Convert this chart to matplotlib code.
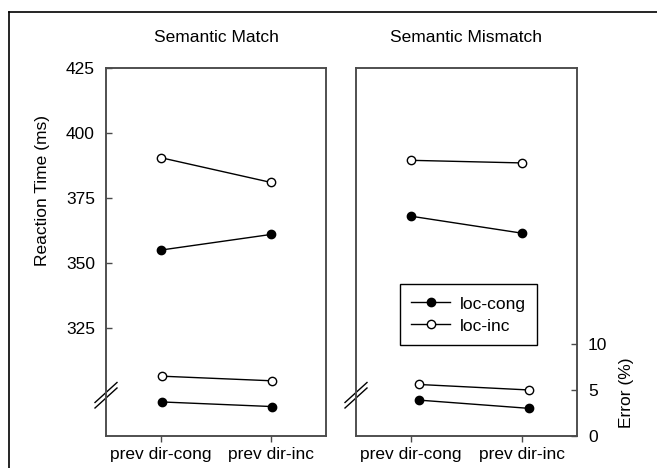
import matplotlib
matplotlib.use("Agg")
import matplotlib.pyplot as plt
from matplotlib.lines import Line2D

plt.rcParams['font.family'] = ['Liberation Sans', 'DejaVu Sans']
plt.rcParams['font.size'] = 12.5

conditions = ["prev dir-cong", "prev dir-inc"]
panels = ["Semantic Match", "Semantic Mismatch"]

# reaction times (ms)
rt_cong = [[355, 361], [368, 361.5]]
rt_inc = [[390.5, 381], [389.5, 388.5]]
# error rates (%)
err_cong = [[3.7, 3.2], [3.9, 3.0]]
err_inc = [[6.5, 6.0], [5.6, 5.0]]
err_shift = [0.01, 0.07]

W, H = 657, 468
fig = plt.figure(figsize=(W / 100, H / 100), dpi=100)

spine_col = "#4a4a4a"
boxes = [(106, 68, 220, 368), (356, 68, 221, 368)]

# outer frame
fig.add_artist(Line2D([9 / W, 1.0], [1 - 12 / H] * 2, color="black", lw=1.2))
fig.add_artist(Line2D([9 / W] * 2, [1 - 12 / H, 0], color="black", lw=1.2))

x = [0, 1]
for i, (l, t, w, h) in enumerate(boxes):
    ax = fig.add_axes([l / W, 1 - (t + h) / H, w / W, h / H])
    ax2 = ax.twinx()

    ax.plot(x, rt_cong[i], "-o", color="black", mfc="black", mec="black",
            ms=6, lw=1, label="loc-cong")
    ax.plot(x, rt_inc[i], "-o", color="black", mfc="white", mec="black",
            ms=6, lw=1, label="loc-inc")
    xe = [v + err_shift[i] for v in x]
    ax2.plot(xe, err_cong[i], "-o", color="black", mfc="black", mec="black",
             ms=6, lw=1)
    ax2.plot(xe, err_inc[i], "-o", color="black", mfc="white", mec="black",
             ms=6, lw=1)

    ax.set_xlim(-0.5, 1.5)
    ax.set_ylim(283.5, 425)
    ax2.set_ylim(0, 40)
    ax.set_xticks(x)
    ax.set_xticklabels(conditions)
    ax.tick_params(axis="x", direction="out", length=4, width=1,
                   color=spine_col, pad=4)

    for a in (ax, ax2):
        for s in a.spines.values():
            s.set_color(spine_col)
            s.set_linewidth(1.1)

    if i == 0:
        ax.set_yticks([325, 350, 375, 400, 425])
        ax.tick_params(axis="y", direction="in", length=4, width=1,
                       color=spine_col, pad=8)
        ax2.set_yticks([])
    else:
        ax.set_yticks([])
        ax2.set_yticks([0, 5, 10])
        ax2.tick_params(axis="y", direction="in", length=4, width=1,
                        color=spine_col, pad=8)
        leg = ax2.legend(handles=ax.get_lines(), loc="upper left",
                         bbox_to_anchor=(0.2, 0.413), borderaxespad=0,
                         fancybox=False, edgecolor="black", framealpha=1,
                         handlelength=2.2, handleheight=1.0,
                         handletextpad=0.57, borderpad=0.65,
                         labelspacing=0.3)
        leg.get_frame().set_linewidth(1)

    # axis break marks on the left spine
    dx, dy = 11 / w, 10 / h
    for off in (0.0, -5.5 / h):
        yc = 41 / h + off + 2.5 / h
        ax.plot([-dx, dx], [yc - dy, yc + dy], color="black", lw=1,
                transform=ax.transAxes, clip_on=False)

    fig.text((l + w / 2) / W, 1 - 38 / H, panels[i], ha="center", va="center")

fig.text(43 / W, 1 - 190 / H, "Reaction Time (ms)", rotation=90,
         ha="center", va="center")
fig.text(627 / W, 1 - 393 / H, "Error (%)", rotation=90,
         ha="center", va="center")

fig.savefig("out.png", dpi=100)
